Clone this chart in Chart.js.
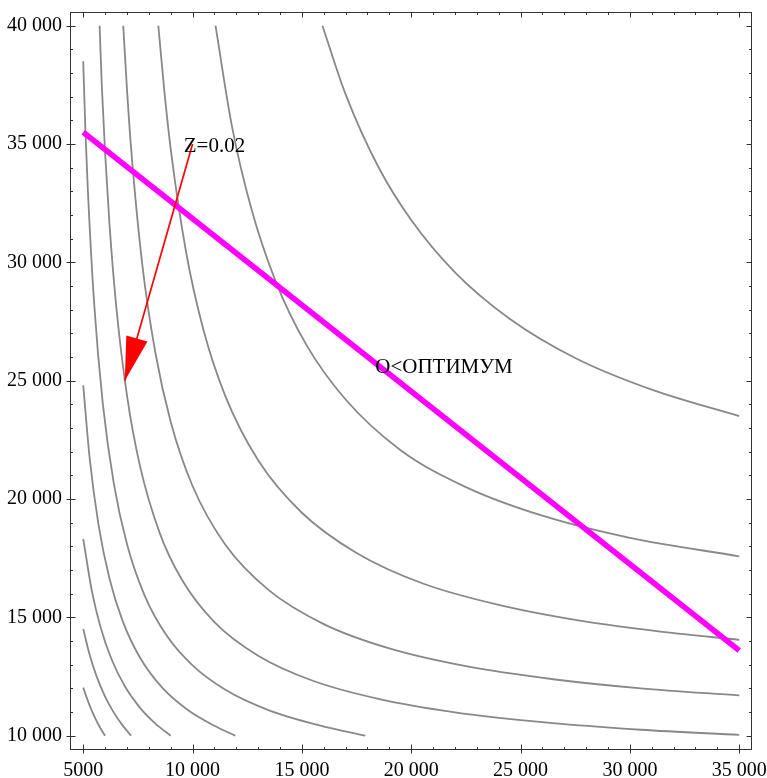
<!DOCTYPE html>
<html>
<head>
<meta charset="utf-8">
<script src="https://cdn.jsdelivr.net/npm/chart.js@4.4.0/dist/chart.umd.min.js"></script>
<style>
  html, body { margin: 0; padding: 0; background: #ffffff; }
  #c { display: block; }
</style>
</head>
<body>
<canvas id="c" width="767" height="778"></canvas>
<script>
// ---- tick labels ----
const xTickValues = [5000, 10000, 15000, 20000, 25000, 30000, 35000];
const xTickLabels = ['5000', '10 000', '15 000', '20 000', '25 000', '30 000', '35 000'];
const yTickValues = [10000, 15000, 20000, 25000, 30000, 35000, 40000];
const yTickLabels = ['10 000', '15 000', '20 000', '25 000', '30 000', '35 000', '40 000'];

// ---- contour curves (x, y) ----
const curve1 = [[5000,12030],[5200,11500],[5400,11035],[5600,10640],[5800,10295],[6000,10000]];
const curve2 = [[5000,14510],[5300,13400],[5600,12540],[6000,11650],[6400,10975],[6800,10435],[7190,10000]];
const curve3 = [[5000,18320],[5400,16090],[5800,14565],[6300,13220],[6900,12095],[7600,11175],[8300,10510],[9000,10000]];
const curve4 = [[5000,24800],[5300,21680],[5700,18910],[6200,16640],[6800,14850],[7600,13290],[8600,12040],[9800,11075],[11000,10420],[11950,10000]];
const curve5 = [[5000,38500],[5100,35560],[5200,33290],[5500,28260],[5900,23990],[6400,20650],[7000,18100],[7800,15940],[8800,14250],[10000,12970],[11500,11940],[13500,11070],[15800,10435],[17900,10000]];
const curve6 = [[5750,40000],[5850,37450],[6000,34630],[6200,31630],[6500,28230],[7000,24380],[7600,21380],[8500,18560],[9500,16610],[11000,14800],[13000,13380],[15500,12320],[18500,11555],[22000,10985],[26000,10570],[30500,10250],[35000,10035]];
const curve7 = [[6830,40000],[7000,37330],[7200,34700],[7700,29920],[8300,26180],[9000,23265],[10000,20550],[11500,18070],[13500,16140],[16000,14715],[19000,13685],[22500,12935],[26500,12385],[30500,12000],[35000,11700]];
const curve8 = [[8435,40000],[8700,37330],[9000,34800],[9700,30460],[10500,27140],[11500,24350],[13000,21640],[15000,19420],[17500,17720],[20500,16440],[24000,15525],[28000,14815],[31500,14390],[35000,14050]];
const curve9 = [[11050,40000],[11800,35760],[12700,32230],[13800,29200],[15200,26525],[17000,24205],[19500,22075],[22500,20505],[26000,19295],[30000,18360],[35000,17580]];
const curve10 = [[15940,40000],[17000,37100],[18500,34030],[20000,31790],[22000,29580],[24500,27620],[27500,25960],[31000,24620],[35000,23500]];

// ---- constraint line and annotation ----
const budgetLine = [[5000,35500],[35000,13600]];
const arrowFrom = [10000, 35000];
const arrowTo = [6900, 25000];
const labelZ = ['Z=0.02', 11000, 34900];
const labelOpt = ['O<ОПТИМУМ', 21500, 25550];

const grayCurves = [curve1, curve2, curve3, curve4, curve5, curve6, curve7, curve8, curve9, curve10];
const toPts = arr => arr.map(p => ({x: p[0], y: p[1]}));

const datasets = [
  { data: toPts([arrowFrom, arrowTo]), borderColor: '#ff0000', borderWidth: 1.7, pointRadius: 0, tension: 0 },
  { data: toPts(budgetLine), borderColor: '#ff00ff', borderWidth: 5.5, pointRadius: 0, tension: 0, borderCapStyle: 'butt' }
];
grayCurves.forEach(c => datasets.push({
  data: toPts(c), borderColor: '#888888', borderWidth: 1.8, pointRadius: 0,
  cubicInterpolationMode: 'monotone'
}));

const FONT_TICK = { family: 'Liberation Serif', size: 20 };
const FONT_TEXT = '21px "Liberation Serif"';

const framePlugin = {
  id: 'frame',
  afterDatasetsDraw(chart) {
    const {ctx, scales: {x, y}} = chart;
    ctx.save();
    // arrow head
    const x0 = x.getPixelForValue(arrowFrom[0]), y0 = y.getPixelForValue(arrowFrom[1]);
    const x1 = x.getPixelForValue(arrowTo[0]), y1 = y.getPixelForValue(arrowTo[1]);
    const dx = x1 - x0, dy = y1 - y0, len = Math.hypot(dx, dy);
    const ux = dx / len, uy = dy / len;
    const hl = 44, hw = 11;
    const bx = x1 - ux * hl, by = y1 - uy * hl;
    ctx.fillStyle = '#ff0000';
    ctx.beginPath();
    ctx.moveTo(x1, y1);
    ctx.lineTo(bx - uy * hw, by + ux * hw);
    ctx.lineTo(bx + uy * hw, by - ux * hw);
    ctx.closePath();
    ctx.fill();
    // text labels
    ctx.fillStyle = '#000';
    ctx.font = FONT_TEXT;
    ctx.textAlign = 'center';
    ctx.textBaseline = 'middle';
    [labelZ, labelOpt].forEach(l => {
      ctx.fillText(l[0], x.getPixelForValue(l[1]), y.getPixelForValue(l[2]));
    });
    ctx.restore();
  },
  afterDraw(chart) {
    const {ctx, chartArea: a, scales: {x, y}} = chart;
    ctx.save();
    ctx.strokeStyle = '#333';
    ctx.lineWidth = 1;
    const L = Math.round(a.left) + 0.5, R = Math.round(a.right) - 0.5;
    const T = Math.round(a.top) + 0.5, B = Math.round(a.bottom) - 0.5;
    ctx.strokeRect(L, T, R - L, B - T);
    ctx.beginPath();
    for (let v = 5000; v <= 35000; v += 1000) {
      const px = Math.round(x.getPixelForValue(v)) + 0.5;
      const major = xTickValues.includes(v);
      const len = major ? 5 : 2.5;
      ctx.moveTo(px, B - len); ctx.lineTo(px, major ? B + 4 : B);
      ctx.moveTo(px, T); ctx.lineTo(px, T + len);
    }
    for (let v = 10000; v <= 40000; v += 1000) {
      const py = Math.round(y.getPixelForValue(v)) + 0.5;
      const major = yTickValues.includes(v);
      const len = major ? 5 : 2.5;
      ctx.moveTo(major ? L - 4 : L, py); ctx.lineTo(L + len, py);
      ctx.moveTo(R - len, py); ctx.lineTo(R, py);
    }
    ctx.stroke();
    ctx.restore();
  }
};

new Chart(document.getElementById('c'), {
  type: 'line',
  data: { datasets },
  options: {
    responsive: false,
    animation: false,
    devicePixelRatio: 1,
    layout: { padding: { left: 0, right: 15, top: 12, bottom: 0 } },
    plugins: { legend: { display: false }, tooltip: { enabled: false } },
    elements: { line: { fill: false } },
    scales: {
      x: {
        type: 'linear', min: 4395, max: 35585,
        afterBuildTicks: s => { s.ticks = xTickValues.map(v => ({ value: v })); },
        afterFit: s => { s.height = 28; s.paddingLeft = 0; s.paddingRight = 0; s.paddingTop = 0; s.paddingBottom = 0; },
        grid: { display: false, drawTicks: false },
        border: { display: false },
        ticks: {
          font: FONT_TICK, color: '#000', padding: 9, maxRotation: 0, autoSkip: false,
          callback: v => xTickLabels[xTickValues.indexOf(v)]
        }
      },
      y: {
        type: 'linear', min: 9395, max: 40580,
        afterBuildTicks: s => { s.ticks = yTickValues.map(v => ({ value: v })); },
        afterFit: s => { s.width = 70; s.paddingLeft = 0; s.paddingRight = 0; s.paddingTop = 0; s.paddingBottom = 0; },
        grid: { display: false, drawTicks: false },
        border: { display: false },
        ticks: {
          font: FONT_TICK, color: '#000', padding: 8, autoSkip: false,
          callback: v => yTickLabels[yTickValues.indexOf(v)]
        }
      }
    }
  },
  plugins: [framePlugin]
});
</script>
</body>
</html>
